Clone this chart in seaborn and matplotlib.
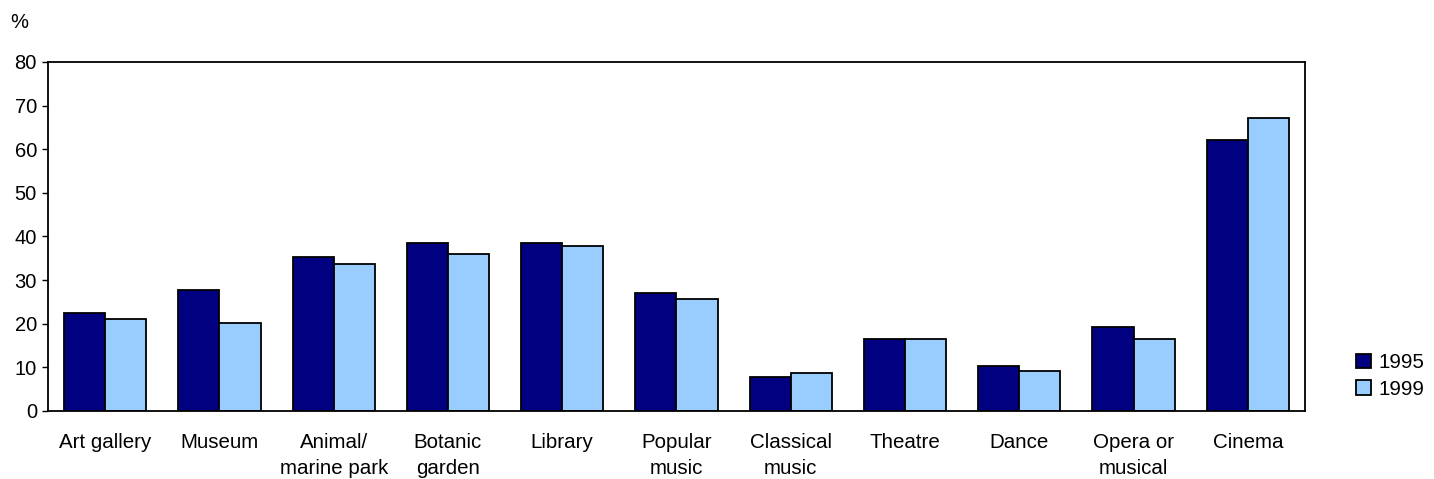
import matplotlib
matplotlib.use("Agg")
import matplotlib.pyplot as plt
import pandas as pd
import seaborn as sns

categories = ["Art gallery", "Museum", "Animal/\nmarine park", "Botanic\ngarden",
              "Library", "Popular\nmusic", "Classical\nmusic", "Theatre",
              "Dance", "Opera or\nmusical", "Cinema"]
years = ["1995", "1999"]
values_1995 = [22.4, 27.8, 35.2, 38.4, 38.4, 27.0, 7.8, 16.4, 10.2, 19.3, 62.1]
values_1999 = [21.0, 20.2, 33.8, 36.0, 37.9, 25.6, 8.7, 16.4, 9.2, 16.4, 67.1]
yticks = [0, 10, 20, 30, 40, 50, 60, 70, 80]

df = pd.DataFrame({
    "activity": categories * 2,
    "year": [years[0]] * len(categories) + [years[1]] * len(categories),
    "pct": values_1995 + values_1999,
})

sns.set_style("white")
plt.rcParams["font.family"] = ["Liberation Sans", "DejaVu Sans"]
plt.rcParams["text.color"] = "black"
plt.rcParams["xtick.color"] = "black"
plt.rcParams["ytick.color"] = "black"

fig = plt.figure(figsize=(14.34, 4.79), dpi=100)
ax = fig.add_axes([0.0335, 0.142, 0.8765, 0.7286])

sns.barplot(data=df, x="activity", y="pct", hue="year",
            palette=["#000080", "#99CCFF"], width=0.72,
            edgecolor="black", linewidth=1.3, saturation=1, ax=ax)

ax.set_ylim(0, 80)
ax.set_xlim(-0.5, len(categories) - 0.5)
ax.set_yticks(yticks)
ax.set_xlabel("")
ax.set_ylabel("")
ax.tick_params(axis="y", which="both", left=True, direction="out",
               length=4, width=1, labelsize=14.5, pad=4)
ax.tick_params(axis="x", bottom=False, labelsize=14.8, pad=12)
for lbl in ax.get_xticklabels():
    lbl.set_linespacing(1.5)
for s in ax.spines.values():
    s.set_visible(True)
    s.set_color("black")
    s.set_linewidth(1.3)

fig.text(10 / 1434, 1 - 22 / 479, "%", fontsize=14.5, va="center", ha="left")

leg = ax.legend(loc="center left", bbox_to_anchor=(1.026, 0.1), frameon=False,
                fontsize=14.8, handlelength=0.7, handleheight=0.7,
                handletextpad=0.4, labelspacing=0.35)

fig.savefig("out.png", dpi=100)
